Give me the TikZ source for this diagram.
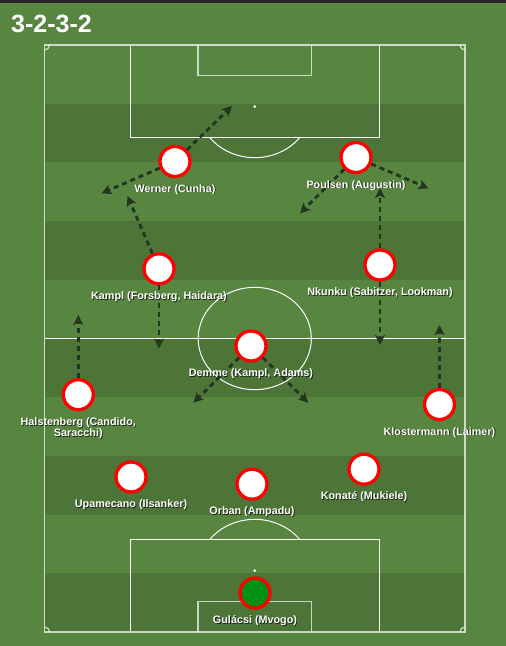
\documentclass[tikz,border=0pt]{standalone}
\usepackage{fontspec}
\usepackage{tikz}
\usetikzlibrary{positioning,arrows.meta}

\newfontfamily\lblfont{Liberation Sans}

\definecolor{grass}{RGB}{88,133,64}
\definecolor{grassdark}{RGB}{77,117,56}
\definecolor{runcol}{RGB}{36,54,32}
\definecolor{keepercol}{RGB}{0,145,20}

\tikzset{
  player/.style={circle, draw=red, line width=3.3pt, fill=white, minimum size=30pt, inner sep=0pt},
  keeper/.style={player, fill=keepercol},
  lbl/.style={font=\lblfont\bfseries\fontsize{10.8}{11}\selectfont, text=white, align=center, inner sep=0pt},
  lblshadow/.style={lbl, text=black, opacity=.7},
  run/.style={runcol, line width=2.9pt, dash pattern=on 5pt off 4pt,
    -{Stealth[length=10pt,width=10pt,inset=2.5pt]}},
  pitchline/.style={white, line width=1pt},
  outline/.style={white, draw opacity=.7, line width=1.3pt},
}

% label with a small drop shadow under a player
\newcommand{\plabel}[2]{%
  \node[lblshadow, below=6pt of #1, xshift=.8pt, yshift=-.8pt] (#1-s) {#2};
  \node[lbl, below=6pt of #1] (#1-l) {#2};}

\begin{document}
\begin{tikzpicture}[x=1pt,y=-1pt]

  \useasboundingbox (0,0) rectangle (506,646);
  \fill[grass] (0,0) rectangle (506,646);
  \fill[black!85] (0,0) rectangle (506,3);

  % stripes
  \foreach \i in {1,3,5,7,9}
    \fill[grassdark] (44.5,{45+58.7*\i}) rectangle (465,{45+58.7*(\i+1)});

  \node[anchor=base west, inner sep=0pt, text=white,
    font=\lblfont\bfseries\fontsize{25}{25}\selectfont] (title) at (11,32) {3-2-3-2};

  % pitch markings
  \draw[outline] (44.5,45) rectangle (465,632);
  \draw[pitchline] (44.5,338.5) -- (465,338.5);
  \draw[pitchline] (254.75,338.5) ellipse [x radius=56.6, y radius=51.2];

  \draw[pitchline] (130,45) -- (130,137.5) -- (379.5,137.5) -- (379.5,45);
  \draw[outline] (198,45) -- (198,75.7) -- (311.5,75.7) -- (311.5,45);
  \draw[pitchline] (300,137.2) arc[start angle=36.87, end angle=143.13, x radius=56.6, y radius=51.2];
  \fill[white] (254.75,106.5) circle (1.5pt);

  \draw[pitchline] (130,632) -- (130,539) -- (379.5,539) -- (379.5,632);
  \draw[outline] (198,632) -- (198,601.3) -- (311.5,601.3) -- (311.5,632);
  \draw[pitchline] (300,539.8) arc[start angle=-36.87, end angle=-143.13, x radius=56.6, y radius=51.2];
  \fill[white] (254.75,570.5) circle (1.5pt);

  \draw[outline] (49.5,45) arc[start angle=0, end angle=90, radius=5];
  \draw[outline] (465,50) arc[start angle=90, end angle=180, radius=5];
  \draw[outline] (44.5,627) arc[start angle=-90, end angle=0, radius=5];
  \draw[outline] (460,632) arc[start angle=180, end angle=270, radius=5];

  % players
  \node[player] (werner) at (175,161.5) {};
  \node[player] (poulsen) at (356,157.5) {};
  \node[player] (kampl) at (159,268.8) {};
  \node[player] (nkunku) at (380,265) {};
  \node[player] (demme) at (251,346) {};
  \node[player] (halstenberg) at (78.3,394.7) {};
  \node[player] (klostermann) at (439.5,404.5) {};
  \node[player] (upamecano) at (131,477) {};
  \node[player] (orban) at (252,484.2) {};
  \node[player] (konate) at (364,469.2) {};
  \node[keeper] (gulacsi) at (255,593) {};

  % runs
  \coordinate (werner-a) at (232,106);
  \coordinate (werner-b) at (101.5,193.3);
  \coordinate (poulsen-a) at (300,213.3);
  \coordinate (poulsen-b) at (428.5,188.3);
  \coordinate (kampl-a) at (127.5,196);
  \coordinate (kampl-b) at (159,348.5);
  \coordinate (nkunku-a) at (380,188);
  \coordinate (nkunku-b) at (380,345);
  \coordinate (demme-a) at (193.3,402.7);
  \coordinate (demme-b) at (308.3,402.7);
  \coordinate (halstenberg-a) at (78.3,315);
  \coordinate (klostermann-a) at (439.5,325);

  \draw[run] (werner) -- (werner-a);
  \draw[run] (werner) -- (werner-b);
  \draw[run] (poulsen) -- (poulsen-a);
  \draw[run] (poulsen) -- (poulsen-b);
  \draw[run] (kampl) -- (kampl-a);
  \draw[run] (kampl) -- (kampl-b);
  \draw[run] (nkunku) -- (nkunku-a);
  \draw[run] (nkunku) -- (nkunku-b);
  \draw[run] (demme) -- (demme-a);
  \draw[run] (demme) -- (demme-b);
  \draw[run] (halstenberg) -- (halstenberg-a);
  \draw[run] (klostermann) -- (klostermann-a);

  % names
  \plabel{werner}{Werner (Cunha)}
  \plabel{poulsen}{Poulsen (Augustin)}
  \plabel{kampl}{Kampl (Forsberg, Haidara)}
  \plabel{nkunku}{Nkunku (Sabitzer, Lookman)}
  \plabel{demme}{Demme (Kampl, Adams)}
  \plabel{halstenberg}{Halstenberg (Candido,\\Saracchi)}
  \plabel{klostermann}{Klostermann (Laimer)}
  \plabel{upamecano}{Upamecano (Ilsanker)}
  \plabel{orban}{Orban (Ampadu)}
  \plabel{konate}{Konaté (Mukiele)}
  \plabel{gulacsi}{Gulácsi (Mvogo)}

\end{tikzpicture}
\end{document}
